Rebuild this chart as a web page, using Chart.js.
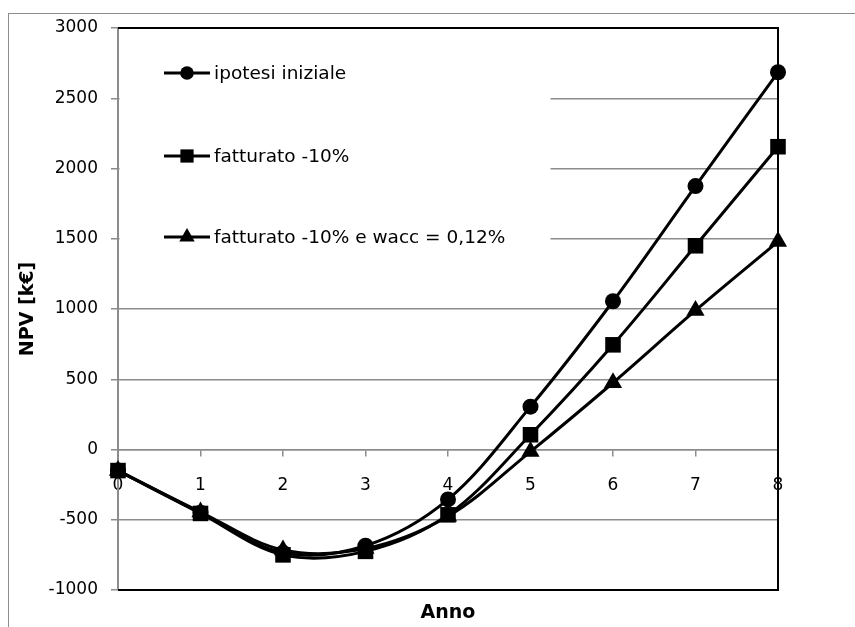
<!DOCTYPE html>
<html><head><meta charset="utf-8">
<script src="https://cdn.jsdelivr.net/npm/chart.js@4/dist/chart.umd.min.js"></script>
<style>html,body{margin:0;padding:0;background:#fff;overflow:hidden}</style>
</head><body>
<canvas id="c" width="855" height="627"></canvas>
<script>
// ---- data ----
const years = [0, 1, 2, 3, 4, 5, 6, 7, 8];
const seriesNames = ['ipotesi iniziale', 'fatturato -10%', 'fatturato -10% e wacc = 0,12%'];
const npvIpotesi   = [-150, -450, -735, -685, -355, 305, 1055, 1875, 2685];
const npvFatturato = [-150, -455, -750, -725, -465, 105, 745, 1450, 2155];
const npvWacc      = [-150, -445, -715, -705, -475, -15, 475, 990, 1480];
const yMin = -1000, yMax = 3000, yStep = 500;
const xMin = 0, xMax = 8, xStep = 1;
const xTitle = 'Anno';
const yTitle = 'NPV [k€]';

const FONT = '"DejaVu Sans", sans-serif';
const GRID = '#8c8c8c';
const pointStyles = ['circle', 'rect', 'triangle'];
const pointRadii = [8, 11, 10.5];
const allValues = [npvIpotesi, npvFatturato, npvWacc];

const datasets = allValues.map((vals, i) => ({
  label: seriesNames[i],
  data: years.map((x, j) => ({x: x, y: vals[j]})),
  borderColor: '#000',
  backgroundColor: '#000',
  borderWidth: 3,
  pointStyle: pointStyles[i],
  pointRadius: pointRadii[i],
  pointHoverRadius: pointRadii[i],
  pointBorderWidth: 0,
  tension: 0.35,
  clip: false
}));

const framePlugin = {
  id: 'frame',
  beforeDraw(chart) {
    const ctx = chart.ctx;
    ctx.save();
    ctx.strokeStyle = GRID;
    ctx.lineWidth = 1;
    ctx.strokeRect(8.5, 13.5, 1000, 1000);
    ctx.restore();
  },
  beforeDatasetsDraw(chart) {
    const ctx = chart.ctx, a = chart.chartArea;
    ctx.save();
    // legend box (white, covers gridlines)
    const lx = a.left + 1.5, ly = a.top + 10;
    ctx.fillStyle = '#fff';
    ctx.fillRect(lx, ly, 431, 250);
    const rows = [73, 156, 237];
    ctx.font = '18.5px ' + FONT;
    ctx.textBaseline = 'middle';
    ctx.textAlign = 'left';
    rows.forEach((ry, i) => {
      ctx.strokeStyle = '#000';
      ctx.lineWidth = 3;
      ctx.beginPath();
      ctx.moveTo(164, ry);
      ctx.lineTo(210, ry);
      ctx.stroke();
      ctx.fillStyle = '#000';
      Chart.helpers.drawPoint(ctx, {pointStyle: pointStyles[i], radius: pointRadii[i] * 0.85, rotation: 0, borderWidth: 0}, 187, ry);
      ctx.fillStyle = '#000';
      ctx.fillText(seriesNames[i], 214, ry + 1);
    });
    // plot frame: black top, right, bottom
    ctx.strokeStyle = '#000';
    ctx.lineWidth = 2;
    ctx.beginPath();
    ctx.moveTo(a.left, a.top);
    ctx.lineTo(a.right, a.top);
    ctx.lineTo(a.right, a.bottom);
    ctx.lineTo(a.left, a.bottom);
    ctx.stroke();
    ctx.restore();
  }
};

const plainTick = v => String(v);

new Chart(document.getElementById('c'), {
  type: 'line',
  data: {datasets: datasets},
  plugins: [framePlugin],
  options: {
    responsive: false,
    devicePixelRatio: 1,
    animation: false,
    layout: {padding: {left: 0, right: 77, top: 28, bottom: 0}},
    plugins: {legend: {display: false}, tooltip: {enabled: false}},
    scales: {
      x: {
        type: 'linear',
        min: xMin, max: xMax,
        position: {y: 0},
        afterFit(s) { s.height = 0; },
        ticks: {stepSize: xStep, color: '#000', font: {family: FONT, size: 17}, padding: 20, callback: plainTick},
        grid: {drawOnChartArea: false, drawTicks: true, tickLength: 6, color: GRID, lineWidth: 1.5},
        border: {display: true, color: GRID, width: 1.5}
      },
      xb: {
        type: 'linear',
        axis: 'x',
        min: xMin, max: xMax,
        position: 'bottom',
        afterFit(s) { s.height = 37; },
        ticks: {display: false},
        grid: {display: false, drawTicks: false},
        border: {display: false},
        title: {display: true, text: xTitle, color: '#000', font: {family: FONT, size: 19, weight: 'bold'}, padding: {top: 0, bottom: 3}}
      },
      y: {
        type: 'linear',
        min: yMin, max: yMax,
        position: 'left',
        afterFit(s) { s.width = 118; },
        ticks: {stepSize: yStep, color: '#000', font: {family: FONT, size: 17}, padding: 13, callback: plainTick},
        grid: {color: GRID, lineWidth: 1.5, tickLength: 7, drawTicks: true},
        border: {display: true, color: GRID, width: 2},
        title: {display: true, text: yTitle, color: '#000', font: {family: FONT, size: 19, weight: 'bold'}, padding: {top: 17, bottom: 0}}
      }
    }
  }
});
</script>
</body></html>
